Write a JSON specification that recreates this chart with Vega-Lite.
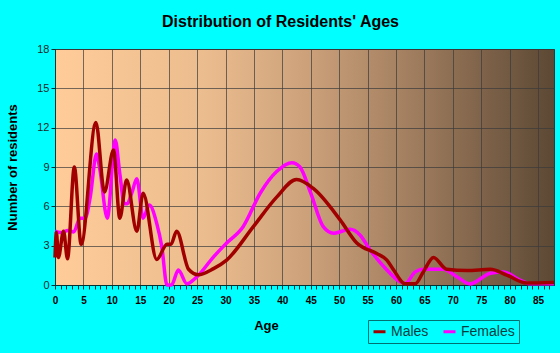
{
  "$schema": "https://vega.github.io/schema/vega-lite/v6.json",
  "autosize": "none",
  "width": 499,
  "height": 236,
  "padding": {"left": 55, "top": 49, "right": 6, "bottom": 68},
  "background": "#00FFFF",
  "title": {
    "text": "Distribution of Residents' Ages",
    "fontSize": 16,
    "fontWeight": "bold",
    "font": "Liberation Sans",
    "color": "#000000",
    "anchor": "middle",
    "dx": -24,
    "offset": 13
  },
  "config": {
    "font": "Liberation Sans",
    "view": {
      "stroke": "#333333",
      "strokeWidth": 1,
      "fill": {
        "gradient": "linear",
        "x1": 0, "y1": 0, "x2": 1, "y2": 0,
        "stops": [
          {"offset": 0, "color": "#FFCC99"},
          {"offset": 0.3, "color": "#EBBC8E"},
          {"offset": 0.5, "color": "#CDA27B"},
          {"offset": 0.7, "color": "#A48061"},
          {"offset": 1, "color": "#5C4834"}
        ]
      }
    }
  },
  "data": {
    "values": [
      {"sex": "Males", "age": 0, "n": 2.1},
      {"sex": "Males", "age": 0.25, "n": 4.0},
      {"sex": "Males", "age": 0.6, "n": 2.1},
      {"sex": "Males", "age": 1.5, "n": 4.1},
      {"sex": "Males", "age": 2.2, "n": 2.0},
      {"sex": "Males", "age": 3.4, "n": 9.0},
      {"sex": "Males", "age": 4.6, "n": 3.1},
      {"sex": "Males", "age": 7.2, "n": 12.4},
      {"sex": "Males", "age": 8.7, "n": 7.1},
      {"sex": "Males", "age": 10.3, "n": 10.3},
      {"sex": "Males", "age": 11.4, "n": 5.1},
      {"sex": "Males", "age": 12.6, "n": 8.0},
      {"sex": "Males", "age": 14.4, "n": 4.1},
      {"sex": "Males", "age": 15.5, "n": 7.0},
      {"sex": "Males", "age": 17.9, "n": 1.95},
      {"sex": "Males", "age": 19.7, "n": 3.1},
      {"sex": "Males", "age": 20.4, "n": 3.1},
      {"sex": "Males", "age": 21.4, "n": 4.1},
      {"sex": "Males", "age": 23.5, "n": 1.2},
      {"sex": "Males", "age": 25.2, "n": 0.78},
      {"sex": "Males", "age": 27.9, "n": 1.25},
      {"sex": "Males", "age": 30.2, "n": 1.9},
      {"sex": "Males", "age": 34.9, "n": 4.45},
      {"sex": "Males", "age": 39.0, "n": 6.7},
      {"sex": "Males", "age": 42.5, "n": 8.05},
      {"sex": "Males", "age": 45.5, "n": 7.35},
      {"sex": "Males", "age": 50.2, "n": 4.95},
      {"sex": "Males", "age": 53.1, "n": 3.2},
      {"sex": "Males", "age": 56.6, "n": 2.4},
      {"sex": "Males", "age": 58.4, "n": 1.9},
      {"sex": "Males", "age": 59.5, "n": 1.2},
      {"sex": "Males", "age": 61.6, "n": 0.1},
      {"sex": "Males", "age": 63.4, "n": 0.1},
      {"sex": "Males", "age": 64.8, "n": 1.0},
      {"sex": "Males", "age": 66.6, "n": 2.1},
      {"sex": "Males", "age": 68.9, "n": 1.2},
      {"sex": "Males", "age": 72.5, "n": 1.1},
      {"sex": "Males", "age": 76.6, "n": 1.2},
      {"sex": "Males", "age": 79.5, "n": 0.76},
      {"sex": "Males", "age": 83.0, "n": 0.15},
      {"sex": "Males", "age": 87.8, "n": 0.2},
      {"sex": "Females", "age": 0, "n": 4.1},
      {"sex": "Females", "age": 1.0, "n": 4.0},
      {"sex": "Females", "age": 2.3, "n": 4.15},
      {"sex": "Females", "age": 3.3, "n": 4.05},
      {"sex": "Females", "age": 4.4, "n": 5.1},
      {"sex": "Females", "age": 5.3, "n": 5.1},
      {"sex": "Females", "age": 6.2, "n": 6.7},
      {"sex": "Females", "age": 7.3, "n": 10.0},
      {"sex": "Females", "age": 7.9, "n": 8.8},
      {"sex": "Females", "age": 9.2, "n": 5.1},
      {"sex": "Females", "age": 10.6, "n": 11.05},
      {"sex": "Females", "age": 11.4, "n": 8.5},
      {"sex": "Females", "age": 12.2, "n": 6.2},
      {"sex": "Females", "age": 12.7, "n": 6.2},
      {"sex": "Females", "age": 13.5, "n": 7.0},
      {"sex": "Females", "age": 14.4, "n": 8.1},
      {"sex": "Females", "age": 15.5, "n": 5.1},
      {"sex": "Females", "age": 16.6, "n": 6.1},
      {"sex": "Females", "age": 17.9, "n": 4.7},
      {"sex": "Females", "age": 18.8, "n": 2.9},
      {"sex": "Females", "age": 19.7, "n": 0},
      {"sex": "Females", "age": 20.5, "n": 0},
      {"sex": "Females", "age": 21.7, "n": 1.15},
      {"sex": "Females", "age": 23.2, "n": 0.1},
      {"sex": "Females", "age": 24.9, "n": 0.6},
      {"sex": "Females", "age": 27.9, "n": 2.15},
      {"sex": "Females", "age": 30.2, "n": 3.2},
      {"sex": "Females", "age": 33.1, "n": 4.45},
      {"sex": "Females", "age": 36.1, "n": 7.0},
      {"sex": "Females", "age": 39.0, "n": 8.65},
      {"sex": "Females", "age": 41.7, "n": 9.33},
      {"sex": "Females", "age": 43.1, "n": 9.0},
      {"sex": "Females", "age": 45.0, "n": 7.0},
      {"sex": "Females", "age": 47.2, "n": 4.45},
      {"sex": "Females", "age": 49.0, "n": 3.95},
      {"sex": "Females", "age": 51.9, "n": 4.25},
      {"sex": "Females", "age": 53.7, "n": 3.8},
      {"sex": "Females", "age": 55.4, "n": 2.7},
      {"sex": "Females", "age": 58.4, "n": 1.15},
      {"sex": "Females", "age": 60.7, "n": 0.25},
      {"sex": "Females", "age": 61.6, "n": 0.12},
      {"sex": "Females", "age": 63.4, "n": 1.0},
      {"sex": "Females", "age": 64.8, "n": 1.2},
      {"sex": "Females", "age": 68.3, "n": 1.2},
      {"sex": "Females", "age": 70.7, "n": 0.63},
      {"sex": "Females", "age": 73.0, "n": 0.08},
      {"sex": "Females", "age": 76.6, "n": 0.9},
      {"sex": "Females", "age": 78.9, "n": 1.0},
      {"sex": "Females", "age": 81.8, "n": 0.38},
      {"sex": "Females", "age": 83.6, "n": 0.1},
      {"sex": "Females", "age": 87.8, "n": 0.1}
    ]
  },
  "encoding": {
    "x": {
      "field": "age", "type": "quantitative",
      "scale": {"domain": [0, 87.8], "nice": false, "zero": false},
      "axis": {
        "title": "Age",
        "titleFontSize": 13,
        "titleFontWeight": "bold",
        "titleColor": "#000000",
        "titleX": 211,
        "titlePadding": 14,
        "values": [0,1,2,3,4,5,6,7,8,9,10,11,12,13,14,15,16,17,18,19,20,21,22,23,24,25,26,27,28,29,30,31,32,33,34,35,36,37,38,39,40,41,42,43,44,45,46,47,48,49,50,51,52,53,54,55,56,57,58,59,60,61,62,63,64,65,66,67,68,69,70,71,72,73,74,75,76,77,78,79,80,81,82,83,84,85,86,87],
        "labelExpr": "datum.value % 5 === 0 ? datum.label : ''",
        "labelFontSize": 10,
        "labelFontWeight": "bold",
        "labelColor": "#000000",
        "labelPadding": 6,
        "labelFlush": false,
        "labelOverlap": false,
        "tickSize": 4,
        "tickColor": "#003333",
        "domainColor": "#003333",
        "grid": true,
        "gridColor": "#3a3a3a",
        "gridOpacity": {"condition": {"test": "datum.value % 5 === 0 && datum.value > 0", "value": 0.7}, "value": 0}
      }
    },
    "y": {
      "field": "n", "type": "quantitative",
      "scale": {"domain": [0, 18], "nice": false},
      "axis": {
        "title": "Number of residents",
        "titleFontSize": 13,
        "titleFontWeight": "bold",
        "titleColor": "#000000",
        "titlePadding": 17,
        "values": [0, 3, 6, 9, 12, 15, 18],
        "labelFontSize": 11,
        "labelColor": "#1a2a2a",
        "labelPadding": 2,
        "tickSize": 4,
        "tickColor": "#003333",
        "domainColor": "#003333",
        "grid": true,
        "gridColor": "#3a3a3a",
        "gridOpacity": 0.7
      }
    },
    "color": {
      "field": "sex", "type": "nominal",
      "scale": {"domain": ["Males", "Females"], "range": ["#A00000", "#FF00FF"]},
      "legend": {
        "title": null,
        "orient": "none",
        "legendX": 313,
        "legendY": 271,
        "direction": "horizontal",
        "padding": 4,
        "strokeColor": "#007070",
        "fillColor": "#00FFFF",
        "labelFontSize": 14,
        "labelColor": "#004040",
        "labelOffset": 4,
        "symbolType": "stroke",
        "symbolStrokeWidth": 3,
        "symbolSize": 144,
        "columnPadding": 8
      }
    }
  },
  "layer": [
    {
      "transform": [{"filter": "datum.sex === 'Females'"}],
      "mark": {"type": "line", "interpolate": "monotone", "strokeWidth": 3.5}
    },
    {
      "transform": [{"filter": "datum.sex === 'Males'"}],
      "mark": {"type": "line", "interpolate": "monotone", "strokeWidth": 3.5}
    }
  ]
}
